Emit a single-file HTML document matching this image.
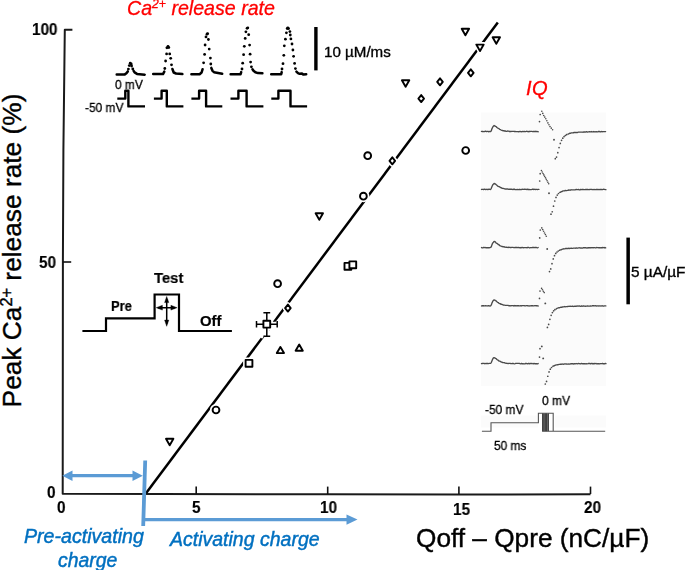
<!DOCTYPE html>
<html><head><meta charset="utf-8">
<style>
html,body{margin:0;padding:0;background:#fff;}
body{width:685px;height:570px;position:relative;overflow:hidden;font-family:"Liberation Sans",sans-serif;}
svg{position:absolute;left:0;top:0;}
.t{position:absolute;white-space:nowrap;line-height:1;will-change:transform;}
sup{font-size:0.62em;vertical-align:0;position:relative;top:-0.55em;}
</style></head><body>
<svg width="685" height="570" viewBox="0 0 685 570">
<rect x="481" y="112.5" width="125" height="273.5" fill="#fbfbfb"/>
<rect x="481" y="415.5" width="57" height="12" fill="#fbfbfb"/>
<rect x="555" y="415.5" width="51" height="12" fill="#fbfbfb"/>
<path d="M72.4 29.7 H64.8 L63.4 150 L62.9 260 L62.7 493.8 L327 494.3 L459 494.6 L590.5 494.3" fill="none" stroke="#1a1a1a" stroke-width="2" stroke-linejoin="round"/>
<path d="M62.9 262 H71.2" fill="none" stroke="#111" stroke-width="1.6"/>
<path d="M196.2 494 V486.6" fill="none" stroke="#111" stroke-width="1.6"/>
<path d="M327.7 494 V486.6" fill="none" stroke="#111" stroke-width="1.6"/>
<path d="M458.9 494 V486.6" fill="none" stroke="#111" stroke-width="1.6"/>
<path d="M590.5 494 V486.6" fill="none" stroke="#111" stroke-width="1.6"/>
<path d="M145.8 493.5 L497.8 22.6" fill="none" stroke="#000" stroke-width="2.5"/>
<path d="M166 438.8 L173.4 438.8 L169.7 445.2 Z" fill="#fff" stroke="#fff" stroke-width="5" stroke-linejoin="round"/>
<path d="M315.6 213.3 L323 213.3 L319.3 219.7 Z" fill="#fff" stroke="#fff" stroke-width="5" stroke-linejoin="round"/>
<path d="M401.9 80.3 L409.3 80.3 L405.6 86.7 Z" fill="#fff" stroke="#fff" stroke-width="5" stroke-linejoin="round"/>
<path d="M461.7 28.8 L469.1 28.8 L465.4 35.2 Z" fill="#fff" stroke="#fff" stroke-width="5" stroke-linejoin="round"/>
<path d="M476.3 44.6 L483.7 44.6 L480 51 Z" fill="#fff" stroke="#fff" stroke-width="5" stroke-linejoin="round"/>
<path d="M492.6 37.3 L500 37.3 L496.3 43.7 Z" fill="#fff" stroke="#fff" stroke-width="5" stroke-linejoin="round"/>
<path d="M276.8 353.1 L284 353.1 L280.4 346.9 Z" fill="#fff" stroke="#fff" stroke-width="5" stroke-linejoin="round"/>
<path d="M295.6 350.7 L302.8 350.7 L299.2 344.5 Z" fill="#fff" stroke="#fff" stroke-width="5" stroke-linejoin="round"/>
<path d="M287.9 304.6 L290.7 308.1 L287.9 311.6 L285.1 308.1 Z" fill="#fff" stroke="#fff" stroke-width="5" stroke-linejoin="round"/>
<path d="M392.3 157.3 L395.1 160.8 L392.3 164.3 L389.5 160.8 Z" fill="#fff" stroke="#fff" stroke-width="5" stroke-linejoin="round"/>
<path d="M421.2 95.1 L424 98.6 L421.2 102.1 L418.4 98.6 Z" fill="#fff" stroke="#fff" stroke-width="5" stroke-linejoin="round"/>
<path d="M440 78.3 L442.8 81.8 L440 85.3 L437.2 81.8 Z" fill="#fff" stroke="#fff" stroke-width="5" stroke-linejoin="round"/>
<path d="M470.8 69.3 L473.6 72.8 L470.8 76.3 L468 72.8 Z" fill="#fff" stroke="#fff" stroke-width="5" stroke-linejoin="round"/>
<path d="M245.6 359.9 H252.4 V366.7 H245.6 Z" fill="#fff" stroke="#fff" stroke-width="5" stroke-linejoin="round"/>
<path d="M263.4 320.8 H270.2 V327.6 H263.4 Z" fill="#fff" stroke="#fff" stroke-width="5" stroke-linejoin="round"/>
<path d="M344.5 262.9 H351.3 V269.7 H344.5 Z" fill="#fff" stroke="#fff" stroke-width="5" stroke-linejoin="round"/>
<path d="M349.4 261.4 H356.2 V268.2 H349.4 Z" fill="#fff" stroke="#fff" stroke-width="5" stroke-linejoin="round"/>
<circle cx="216" cy="410" r="3.6" fill="#fff" stroke="#fff" stroke-width="5"/>
<circle cx="277.6" cy="283.7" r="3.6" fill="#fff" stroke="#fff" stroke-width="5"/>
<circle cx="363.4" cy="196.2" r="3.6" fill="#fff" stroke="#fff" stroke-width="5"/>
<circle cx="367.7" cy="155.7" r="3.6" fill="#fff" stroke="#fff" stroke-width="5"/>
<circle cx="465.7" cy="150.5" r="3.6" fill="#fff" stroke="#fff" stroke-width="5"/>
<path d="M266.8 312.6 V336.4 M256.3 324.2 H277.4" stroke="#fff" stroke-width="5"/>
<path d="M260.6 337.5 L265 331.5" stroke="#fff" stroke-width="4"/>
<path d="M266.8 312.6 V320.6 M266.8 327.8 V336.4 M263.4 312.8 H270.2 M263.4 336.2 H270.2 M256.3 324.2 H263.2 M270.4 324.2 H277.4 M256.5 321 V327.4 M277.2 321 V327.4" fill="none" stroke="#000" stroke-width="1.5"/>
<path d="M166 438.8 L173.4 438.8 L169.7 445.2 Z" fill="#fff" stroke="#000" stroke-width="1.9" stroke-linejoin="round"/>
<path d="M315.6 213.3 L323 213.3 L319.3 219.7 Z" fill="#fff" stroke="#000" stroke-width="1.9" stroke-linejoin="round"/>
<path d="M401.9 80.3 L409.3 80.3 L405.6 86.7 Z" fill="#fff" stroke="#000" stroke-width="1.9" stroke-linejoin="round"/>
<path d="M461.7 28.8 L469.1 28.8 L465.4 35.2 Z" fill="#fff" stroke="#000" stroke-width="1.9" stroke-linejoin="round"/>
<path d="M476.3 44.6 L483.7 44.6 L480 51 Z" fill="#fff" stroke="#000" stroke-width="1.9" stroke-linejoin="round"/>
<path d="M492.6 37.3 L500 37.3 L496.3 43.7 Z" fill="#fff" stroke="#000" stroke-width="1.9" stroke-linejoin="round"/>
<path d="M276.8 353.1 L284 353.1 L280.4 346.9 Z" fill="#fff" stroke="#000" stroke-width="1.9" stroke-linejoin="round"/>
<path d="M295.6 350.7 L302.8 350.7 L299.2 344.5 Z" fill="#fff" stroke="#000" stroke-width="1.9" stroke-linejoin="round"/>
<path d="M287.9 304.6 L290.7 308.1 L287.9 311.6 L285.1 308.1 Z" fill="#fff" stroke="#000" stroke-width="1.9" stroke-linejoin="round"/>
<path d="M392.3 157.3 L395.1 160.8 L392.3 164.3 L389.5 160.8 Z" fill="#fff" stroke="#000" stroke-width="1.9" stroke-linejoin="round"/>
<path d="M421.2 95.1 L424 98.6 L421.2 102.1 L418.4 98.6 Z" fill="#fff" stroke="#000" stroke-width="1.9" stroke-linejoin="round"/>
<path d="M440 78.3 L442.8 81.8 L440 85.3 L437.2 81.8 Z" fill="#fff" stroke="#000" stroke-width="1.9" stroke-linejoin="round"/>
<path d="M470.8 69.3 L473.6 72.8 L470.8 76.3 L468 72.8 Z" fill="#fff" stroke="#000" stroke-width="1.9" stroke-linejoin="round"/>
<path d="M245.6 359.9 H252.4 V366.7 H245.6 Z" fill="#fff" stroke="#000" stroke-width="1.9" stroke-linejoin="round"/>
<path d="M263.4 320.8 H270.2 V327.6 H263.4 Z" fill="#fff" stroke="#000" stroke-width="1.9" stroke-linejoin="round"/>
<path d="M344.5 262.9 H351.3 V269.7 H344.5 Z" fill="#fff" stroke="#000" stroke-width="1.9" stroke-linejoin="round"/>
<path d="M349.4 261.4 H356.2 V268.2 H349.4 Z" fill="#fff" stroke="#000" stroke-width="1.9" stroke-linejoin="round"/>
<circle cx="216" cy="410" r="3.4" fill="#fff" stroke="#000" stroke-width="1.9"/>
<circle cx="277.6" cy="283.7" r="3.4" fill="#fff" stroke="#000" stroke-width="1.9"/>
<circle cx="363.4" cy="196.2" r="3.4" fill="#fff" stroke="#000" stroke-width="1.9"/>
<circle cx="367.7" cy="155.7" r="3.4" fill="#fff" stroke="#000" stroke-width="1.9"/>
<circle cx="465.7" cy="150.5" r="3.4" fill="#fff" stroke="#000" stroke-width="1.9"/>
<path d="M145.2 460.5 L143.2 526" stroke="#5b9bd5" stroke-width="3.8" fill="none"/>
<path d="M144 519.6 H348" stroke="#5b9bd5" stroke-width="3.2" fill="none"/>
<path d="M346.5 514.4 L357.5 519.6 L346.5 524.8 Z" fill="#5b9bd5"/>
<path d="M71 475.7 H134" stroke="#5b9bd5" stroke-width="3.2" fill="none"/>
<path d="M72.5 470.5 L62.3 475.7 L72.5 480.9 Z" fill="#5b9bd5"/>
<path d="M132.5 470.5 L142.8 475.7 L132.5 480.9 Z" fill="#5b9bd5"/>
<polyline points="116.7,74.4 124.8,74.4 126.4,73.3 127.8,71.4" fill="none" stroke="#000" stroke-width="2.5" stroke-linejoin="round" stroke-linecap="round"/>
<polyline points="133.6,70.8 134.6,72.4 137,73.9 144.7,74.7" fill="none" stroke="#000" stroke-width="2.5" stroke-linejoin="round" stroke-linecap="round"/>
<circle cx="128.4" cy="69.1" r="1.4"/>
<circle cx="129.3" cy="65.6" r="1.4"/>
<circle cx="130.2" cy="63.2" r="1.4"/>
<circle cx="131.2" cy="64" r="1.4"/>
<circle cx="131.6" cy="66" r="1.4"/>
<circle cx="132.8" cy="68.9" r="1.4"/>
<polyline points="153.2,74.1 163,74.1 164.3,71.6" fill="none" stroke="#000" stroke-width="2.5" stroke-linejoin="round" stroke-linecap="round"/>
<polyline points="172.4,69 173.7,72.5 176,73.5 182.4,74.1" fill="none" stroke="#000" stroke-width="2.5" stroke-linejoin="round" stroke-linecap="round"/>
<circle cx="164.8" cy="68.5" r="1.4"/>
<circle cx="165.6" cy="61" r="1.4"/>
<circle cx="166.6" cy="53.9" r="1.4"/>
<circle cx="166.9" cy="47.8" r="1.4"/>
<circle cx="168" cy="46.3" r="1.4"/>
<circle cx="168.8" cy="47.6" r="1.4"/>
<circle cx="169.7" cy="53.9" r="1.4"/>
<circle cx="170.7" cy="58.3" r="1.4"/>
<circle cx="171.5" cy="64.8" r="1.4"/>
<polyline points="191.4,74.2 199.6,74.2 201.6,72.5 202.6,69.2" fill="none" stroke="#000" stroke-width="2.5" stroke-linejoin="round" stroke-linecap="round"/>
<polyline points="211.3,67.9 212.5,70.8 214,72.2 222.2,73.7" fill="none" stroke="#000" stroke-width="2.5" stroke-linejoin="round" stroke-linecap="round"/>
<circle cx="203.6" cy="62.8" r="1.4"/>
<circle cx="204.6" cy="54.4" r="1.4"/>
<circle cx="205.1" cy="45" r="1.4"/>
<circle cx="206" cy="36.9" r="1.4"/>
<circle cx="207" cy="34.2" r="1.4"/>
<circle cx="207.6" cy="33.6" r="1.4"/>
<circle cx="208.4" cy="39.5" r="1.4"/>
<circle cx="209.2" cy="49.1" r="1.4"/>
<circle cx="210.4" cy="58.1" r="1.4"/>
<circle cx="210.8" cy="64" r="1.4"/>
<polyline points="230.6,74.2 240.6,74.2 241.2,72.1" fill="none" stroke="#000" stroke-width="2.5" stroke-linejoin="round" stroke-linecap="round"/>
<polyline points="252.5,69.3 253.5,70.8 255.4,72.3 258,73.1 262.4,73.3" fill="none" stroke="#000" stroke-width="2.5" stroke-linejoin="round" stroke-linecap="round"/>
<circle cx="242" cy="69" r="1.4"/>
<circle cx="242.7" cy="63.2" r="1.4"/>
<circle cx="243.6" cy="54.7" r="1.4"/>
<circle cx="244.3" cy="46.3" r="1.4"/>
<circle cx="245.2" cy="38.4" r="1.4"/>
<circle cx="245.9" cy="31.8" r="1.4"/>
<circle cx="247.1" cy="28.3" r="1.4"/>
<circle cx="247.8" cy="27.8" r="1.4"/>
<circle cx="248.7" cy="34.7" r="1.4"/>
<circle cx="249.6" cy="45.1" r="1.4"/>
<circle cx="250.1" cy="54.2" r="1.4"/>
<circle cx="250.6" cy="62.1" r="1.4"/>
<circle cx="251.4" cy="66.8" r="1.4"/>
<polyline points="271.2,74.2 281.2,74.2 281.7,72.1" fill="none" stroke="#000" stroke-width="2.5" stroke-linejoin="round" stroke-linecap="round"/>
<polyline points="296.4,71.6 298,73.2 299.6,73.8 302,73.6 303.5,74.6 306.2,74.2" fill="none" stroke="#000" stroke-width="2.5" stroke-linejoin="round" stroke-linecap="round"/>
<circle cx="282" cy="69" r="1.4"/>
<circle cx="283" cy="63.7" r="1.4"/>
<circle cx="283.8" cy="55.3" r="1.4"/>
<circle cx="284.3" cy="45.8" r="1.4"/>
<circle cx="285.4" cy="39.2" r="1.4"/>
<circle cx="286.4" cy="32.8" r="1.4"/>
<circle cx="287.2" cy="28.6" r="1.4"/>
<circle cx="287.8" cy="27.8" r="1.4"/>
<circle cx="288.6" cy="28.6" r="1.4"/>
<circle cx="289.9" cy="31.6" r="1.4"/>
<circle cx="290.3" cy="35" r="1.4"/>
<circle cx="290.9" cy="38.9" r="1.4"/>
<circle cx="292" cy="44" r="1.4"/>
<circle cx="292.9" cy="50" r="1.4"/>
<circle cx="293.6" cy="56.3" r="1.4"/>
<circle cx="294.6" cy="63.4" r="1.4"/>
<circle cx="295.4" cy="68.6" r="1.4"/>
<path d="M117.3 98.6 H125.3 V90.8 H128.4 V106.4 H145" stroke="#000" stroke-width="2.4" fill="none" stroke-linejoin="round"/>
<path d="M153.9 98.6 H161.6 V90.8 H166.8 V106.4 H183.4" stroke="#000" stroke-width="2.4" fill="none" stroke-linejoin="round"/>
<path d="M191.4 98.6 H199.1 V90.8 H206.1 V106.4 H222.3" stroke="#000" stroke-width="2.4" fill="none" stroke-linejoin="round"/>
<path d="M230.5 98.6 H238.4 V90.8 H246.6 V106.4 H263.4" stroke="#000" stroke-width="2.4" fill="none" stroke-linejoin="round"/>
<path d="M271.3 98.6 H278.4 V90.8 H290.5 V106.4 H307.1" stroke="#000" stroke-width="2.4" fill="none" stroke-linejoin="round"/>
<rect x="314.2" y="27" width="3.4" height="43.4" fill="#000"/>
<rect x="626.4" y="237.6" width="3.5" height="66.7" fill="#000"/>
<path d="M82.4 331 H106 V318.3 H154.6 V294.5 H179 V331 H231.9" stroke="#000" stroke-width="2.2" fill="none"/>
<path d="M158 307.7 H175 M166.7 299 V324" stroke="#000" stroke-width="1.5" fill="none"/>
<path d="M156.2 307.7 L162.4 305.3 L162.4 310.1 Z M177.1 307.7 L170.9 305.3 L170.9 310.1 Z M166.7 296.4 L164.6 302.6 L168.8 302.6 Z M166.7 326.3 L164.6 320.1 L168.8 320.1 Z" fill="#000" stroke="#000" stroke-width="0.4" stroke-linejoin="round"/>
<polyline points="481.5,131.37 482.2,131.52 482.9,131.43 483.6,131.55 484.3,131.56 485,131.28 485.7,131.26 486.4,131.67 487.1,131.38 487.8,131.37 488.5,131.75 489.2,131.49 489.9,131.67 490.6,131.49 491.3,130.72 492,128.58 492.7,127.23 493.4,126.23 494.1,125.54 494.8,125.88 495.5,126.36 496.2,126.61 496.9,127.52 497.6,127.96 498.3,128.3 499,128.61 499.7,129.42 500.4,129.58 501.1,130 501.8,130.35 502.5,130.49 503.2,130.79 503.9,130.68 504.6,131.02 505.3,130.96 506,131.3 506.7,131.35 507.4,131.03 508.1,131.1 508.8,131.18 509.5,131.59 510.2,131.36 510.9,131.47 511.6,131.33 512.3,131.45 513,131.4 513.7,131.39 514.4,131.52 515.1,131.52 515.8,131.69 516.5,131.58 517.2,131.7 517.9,131.67 518.6,131.74 519.3,131.58 520,131.33 520.7,131.68 521.4,131.73 522.1,131.7 522.8,131.53 523.5,131.61 524.2,131.35 524.9,131.67 525.6,131.54 526.3,131.39 527,131.28 527.7,131.68 528.4,131.74 529.1,131.29 529.8,131.65 530.5,131.46 531.2,131.33 531.9,131.4 532.6,131.63 533.3,131.69 534,131.27 534.7,131.56 535.4,131.27 536.1,131.61 536.8,131.42 537.5,131.69 538.2,131.74" fill="none" stroke="#4a4a4a" stroke-width="1.35" stroke-linejoin="round" stroke-linecap="round"/>
<circle cx="539.5" cy="121.6" r="0.85" fill="#4a4a4a"/>
<circle cx="540.2" cy="114.5" r="0.85" fill="#4a4a4a"/>
<circle cx="541.8" cy="111.3" r="0.8" fill="#4a4a4a"/>
<circle cx="542.75" cy="113.4" r="0.8" fill="#4a4a4a"/>
<circle cx="543.7" cy="115.5" r="0.8" fill="#4a4a4a"/>
<circle cx="544.75" cy="117.1" r="0.8" fill="#4a4a4a"/>
<circle cx="545.8" cy="118.7" r="0.8" fill="#4a4a4a"/>
<circle cx="546.85" cy="120.8" r="0.8" fill="#4a4a4a"/>
<circle cx="547.9" cy="122.9" r="0.8" fill="#4a4a4a"/>
<circle cx="548.95" cy="124.75" r="0.8" fill="#4a4a4a"/>
<circle cx="550" cy="126.6" r="0.8" fill="#4a4a4a"/>
<circle cx="551.3" cy="128.15" r="0.8" fill="#4a4a4a"/>
<circle cx="552.6" cy="129.7" r="0.8" fill="#4a4a4a"/>
<circle cx="554" cy="139.7" r="0.95" fill="#4a4a4a"/>
<circle cx="555.3" cy="158.7" r="0.85" fill="#4a4a4a"/>
<circle cx="556.55" cy="157.07" r="0.85" fill="#4a4a4a"/>
<circle cx="557.8" cy="152.65" r="0.85" fill="#4a4a4a"/>
<circle cx="559.05" cy="147.6" r="0.85" fill="#4a4a4a"/>
<circle cx="560.3" cy="143.39" r="0.85" fill="#4a4a4a"/>
<circle cx="561.55" cy="140.3" r="0.85" fill="#4a4a4a"/>
<circle cx="562.8" cy="138.13" r="0.85" fill="#4a4a4a"/>
<circle cx="564.05" cy="136.6" r="0.85" fill="#4a4a4a"/>
<circle cx="565.3" cy="135.5" r="0.85" fill="#4a4a4a"/>
<circle cx="566.55" cy="134.71" r="0.85" fill="#4a4a4a"/>
<polyline points="567.8,134.12 568.5,134.1 569.2,133.52 569.9,133.21 570.6,133.3 571.3,132.86 572,132.81 572.7,132.8 573.4,132.79 574.1,132.47 574.8,132.33 575.5,132.67 576.2,132.32 576.9,132.58 577.6,132.5 578.3,132.19 579,132.18 579.7,132.17 580.4,132.19 581.1,132.14 581.8,132.08 582.5,132.08 583.2,132.22 583.9,131.98 584.6,131.91 585.3,132.04 586,131.77 586.7,131.79 587.4,132.11 588.1,131.86 588.8,131.86 589.5,131.58 590.2,131.77 590.9,131.84 591.6,131.54 592.3,131.83 593,131.83 593.7,131.53 594.4,131.81 595.1,131.72 595.8,131.81 596.5,131.64 597.2,131.81 597.9,131.82 598.6,131.45 599.3,131.47 600,131.77 600.7,131.91 601.4,131.54 602.1,131.64 602.8,131.71 603.5,131.56 604.2,131.58 604.9,131.55 605.6,131.57" fill="none" stroke="#4a4a4a" stroke-width="1.35" stroke-linejoin="round" stroke-linecap="round"/>
<polyline points="481.5,189.45 482.2,189.3 482.9,189.34 483.6,189.54 484.3,189.16 485,189.43 485.7,189.52 486.4,189.31 487.1,189.26 487.8,189.55 488.5,189.27 489.2,189.24 489.9,189.37 490.6,189.5 491.3,188.35 492,186.56 492.7,184.97 493.4,184.11 494.1,183.4 494.8,183.84 495.5,184.01 496.2,184.65 496.9,185.36 497.6,186.01 498.3,186.28 499,186.61 499.7,186.95 500.4,187.5 501.1,187.64 501.8,188.21 502.5,188.45 503.2,188.32 503.9,188.53 504.6,188.93 505.3,188.96 506,189.14 506.7,188.98 507.4,188.94 508.1,189.08 508.8,189.37 509.5,189.14 510.2,189.21 510.9,189.27 511.6,189.29 512.3,189.3 513,189.57 513.7,189.19 514.4,189.12 515.1,189.6 515.8,189.57 516.5,189.63 517.2,189.36 517.9,189.62 518.6,189.61 519.3,189.26 520,189.52 520.7,189.57 521.4,189.48 522.1,189.41 522.8,189.29 523.5,189.32 524.2,189.26 524.9,189.18 525.6,189.44 526.3,189.29 527,189.55 527.7,189.17 528.4,189.6 529.1,189.5 529.8,189.61 530.5,189.6 531.2,189.6 531.9,189.44 532.6,189.16 533.3,189.52 534,189.24 534.7,189.3 535.4,189.48 536.1,189.41 536.8,189.36 537.5,189.62 538.2,189.46 538.9,189.32" fill="none" stroke="#4a4a4a" stroke-width="1.35" stroke-linejoin="round" stroke-linecap="round"/>
<circle cx="539.7" cy="181" r="0.85" fill="#4a4a4a"/>
<circle cx="540.2" cy="173.7" r="0.85" fill="#4a4a4a"/>
<circle cx="541.4" cy="170.5" r="0.8" fill="#4a4a4a"/>
<circle cx="542.21" cy="171.97" r="0.8" fill="#4a4a4a"/>
<circle cx="543.02" cy="173.43" r="0.8" fill="#4a4a4a"/>
<circle cx="543.83" cy="174.9" r="0.8" fill="#4a4a4a"/>
<circle cx="544.64" cy="176.37" r="0.8" fill="#4a4a4a"/>
<circle cx="545.46" cy="177.83" r="0.8" fill="#4a4a4a"/>
<circle cx="546.27" cy="179.3" r="0.8" fill="#4a4a4a"/>
<circle cx="547.08" cy="180.77" r="0.8" fill="#4a4a4a"/>
<circle cx="547.89" cy="182.23" r="0.8" fill="#4a4a4a"/>
<circle cx="548.7" cy="183.7" r="0.8" fill="#4a4a4a"/>
<circle cx="549" cy="193.2" r="0.95" fill="#4a4a4a"/>
<circle cx="551" cy="214.2" r="0.85" fill="#4a4a4a"/>
<circle cx="552.25" cy="211.77" r="0.85" fill="#4a4a4a"/>
<circle cx="553.5" cy="206.18" r="0.85" fill="#4a4a4a"/>
<circle cx="554.75" cy="201" r="0.85" fill="#4a4a4a"/>
<circle cx="556" cy="197.38" r="0.85" fill="#4a4a4a"/>
<circle cx="557.25" cy="195.04" r="0.85" fill="#4a4a4a"/>
<circle cx="558.5" cy="193.52" r="0.85" fill="#4a4a4a"/>
<polyline points="559.75,192.39 560.45,192.27 561.15,191.73 561.85,191.6 562.55,191.14 563.25,190.87 563.95,190.86 564.65,190.86 565.35,190.41 566.05,190.61 566.75,190.58 567.45,190.44 568.15,190.38 568.85,189.9 569.55,190.16 570.25,190.22 570.95,189.77 571.65,189.84 572.35,189.8 573.05,189.9 573.75,189.81 574.45,189.81 575.15,189.94 575.85,189.53 576.55,189.53 577.25,189.55 577.95,189.53 578.65,189.48 579.35,189.92 580.05,189.85 580.75,189.45 581.45,189.65 582.15,189.54 582.85,189.53 583.55,189.54 584.25,189.68 584.95,189.64 585.65,189.52 586.35,189.42 587.05,189.48 587.75,189.38 588.45,189.59 589.15,189.66 589.85,189.49 590.55,189.33 591.25,189.37 591.95,189.47 592.65,189.58 593.35,189.66 594.05,189.46 594.75,189.66 595.45,189.57 596.15,189.47 596.85,189.44 597.55,189.5 598.25,189.6 598.95,189.45 599.65,189.59 600.35,189.47 601.05,189.36 601.75,189.5 602.45,189.58 603.15,189.26 603.85,189.44 604.55,189.44 605.25,189.66 605.95,189.69" fill="none" stroke="#4a4a4a" stroke-width="1.35" stroke-linejoin="round" stroke-linecap="round"/>
<polyline points="481.5,247.54 482.2,247.8 482.9,247.75 483.6,247.48 484.3,247.58 485,247.41 485.7,247.76 486.4,247.68 487.1,247.79 487.8,247.75 488.5,247.68 489.2,247.72 489.9,247.63 490.6,247.4 491.3,246.79 492,244.6 492.7,243.08 493.4,242.28 494.1,241.4 494.8,241.66 495.5,242.17 496.2,243.12 496.9,243.33 497.6,243.78 498.3,244.67 499,244.76 499.7,245.51 500.4,245.78 501.1,246.16 501.8,246.48 502.5,246.52 503.2,246.82 503.9,246.61 504.6,247.11 505.3,247.09 506,247.29 506.7,247.07 507.4,247.45 508.1,247.6 508.8,247.2 509.5,247.37 510.2,247.52 510.9,247.67 511.6,247.4 512.3,247.38 513,247.43 513.7,247.62 514.4,247.7 515.1,247.53 515.8,247.52 516.5,247.54 517.2,247.52 517.9,247.55 518.6,247.39 519.3,247.6 520,247.83 520.7,247.55 521.4,247.72 522.1,247.43 522.8,247.69 523.5,247.73 524.2,247.69 524.9,247.61 525.6,247.59 526.3,247.67 527,247.8 527.7,247.42 528.4,247.4 529.1,247.72 529.8,247.81 530.5,247.61 531.2,247.57 531.9,247.71 532.6,247.44 533.3,247.48 534,247.45 534.7,247.64 535.4,247.51 536.1,247.47 536.8,247.7 537.5,247.83 538.2,247.5" fill="none" stroke="#4a4a4a" stroke-width="1.35" stroke-linejoin="round" stroke-linecap="round"/>
<circle cx="539.7" cy="237.9" r="0.85" fill="#4a4a4a"/>
<circle cx="540.3" cy="230" r="0.85" fill="#4a4a4a"/>
<circle cx="541.8" cy="227.9" r="0.8" fill="#4a4a4a"/>
<circle cx="542.7" cy="229.58" r="0.8" fill="#4a4a4a"/>
<circle cx="543.6" cy="231.26" r="0.8" fill="#4a4a4a"/>
<circle cx="544.5" cy="232.94" r="0.8" fill="#4a4a4a"/>
<circle cx="545.4" cy="234.62" r="0.8" fill="#4a4a4a"/>
<circle cx="546.3" cy="236.3" r="0.8" fill="#4a4a4a"/>
<circle cx="547.2" cy="249" r="0.95" fill="#4a4a4a"/>
<circle cx="549.5" cy="271.6" r="0.85" fill="#4a4a4a"/>
<circle cx="550.75" cy="268.95" r="0.85" fill="#4a4a4a"/>
<circle cx="552" cy="263.64" r="0.85" fill="#4a4a4a"/>
<circle cx="553.25" cy="258.94" r="0.85" fill="#4a4a4a"/>
<circle cx="554.5" cy="255.64" r="0.85" fill="#4a4a4a"/>
<circle cx="555.75" cy="253.45" r="0.85" fill="#4a4a4a"/>
<circle cx="557" cy="251.99" r="0.85" fill="#4a4a4a"/>
<circle cx="558.25" cy="250.99" r="0.85" fill="#4a4a4a"/>
<polyline points="559.5,250.39 560.2,249.94 560.9,249.9 561.6,249.54 562.3,249.2 563,249.01 563.7,248.77 564.4,248.88 565.1,248.72 565.8,248.52 566.5,248.53 567.2,248.44 567.9,248.6 568.6,248.22 569.3,248.59 570,248.29 570.7,248.3 571.4,248.2 572.1,248.35 572.8,248.31 573.5,248.14 574.2,248.08 574.9,248.17 575.6,248.21 576.3,247.96 577,248.11 577.7,248.2 578.4,247.94 579.1,247.81 579.8,247.79 580.5,248.02 581.2,247.98 581.9,248.11 582.6,248.05 583.3,247.73 584,247.7 584.7,247.72 585.4,247.68 586.1,247.93 586.8,247.99 587.5,248.01 588.2,247.68 588.9,247.98 589.6,247.69 590.3,247.74 591,247.89 591.7,247.56 592.4,247.56 593.1,247.93 593.8,247.65 594.5,247.68 595.2,247.78 595.9,247.83 596.6,247.49 597.3,247.65 598,247.7 598.7,247.72 599.4,247.58 600.1,247.76 600.8,247.94 601.5,247.66 602.2,247.73 602.9,247.52 603.6,247.59 604.3,247.78 605,247.5 605.7,247.89" fill="none" stroke="#4a4a4a" stroke-width="1.35" stroke-linejoin="round" stroke-linecap="round"/>
<polyline points="481.5,306 482.2,305.6 482.9,306.02 483.6,305.74 484.3,305.94 485,305.93 485.7,305.7 486.4,305.89 487.1,305.88 487.8,305.95 488.5,305.68 489.2,305.93 489.9,306.03 490.6,305.89 491.3,304.96 492,302.86 492.7,301.45 493.4,300.27 494.1,299.94 494.8,300.15 495.5,300.61 496.2,300.97 496.9,301.76 497.6,302.28 498.3,302.54 499,303.34 499.7,303.62 500.4,303.7 501.1,304.41 501.8,304.28 502.5,304.6 503.2,304.99 503.9,305.09 504.6,305.2 505.3,305.36 506,305.36 506.7,305.37 507.4,305.37 508.1,305.36 508.8,305.73 509.5,305.79 510.2,305.71 510.9,305.83 511.6,305.66 512.3,305.63 513,305.7 513.7,305.95 514.4,305.54 515.1,305.78 515.8,305.66 516.5,305.92 517.2,305.72 517.9,305.71 518.6,305.75 519.3,305.82 520,305.93 520.7,305.72 521.4,305.97 522.1,305.6 522.8,305.68 523.5,305.6 524.2,305.61 524.9,305.94 525.6,305.91 526.3,305.64 527,305.64 527.7,305.76 528.4,305.92 529.1,305.96 529.8,305.92 530.5,305.85 531.2,305.62 531.9,305.75 532.6,305.65 533.3,305.81 534,305.83 534.7,305.65 535.4,305.68 536.1,305.94 536.8,305.57 537.5,305.95 538.2,306" fill="none" stroke="#4a4a4a" stroke-width="1.35" stroke-linejoin="round" stroke-linecap="round"/>
<circle cx="539.5" cy="298.4" r="0.85" fill="#4a4a4a"/>
<circle cx="540" cy="291" r="0.85" fill="#4a4a4a"/>
<circle cx="541.6" cy="288.4" r="0.8" fill="#4a4a4a"/>
<circle cx="542.47" cy="289.8" r="0.8" fill="#4a4a4a"/>
<circle cx="543.33" cy="291.2" r="0.8" fill="#4a4a4a"/>
<circle cx="544.2" cy="292.6" r="0.8" fill="#4a4a4a"/>
<circle cx="545.3" cy="303.4" r="0.95" fill="#4a4a4a"/>
<circle cx="547.4" cy="327.4" r="0.85" fill="#4a4a4a"/>
<circle cx="548.65" cy="324.38" r="0.85" fill="#4a4a4a"/>
<circle cx="549.9" cy="319.34" r="0.85" fill="#4a4a4a"/>
<circle cx="551.15" cy="315.32" r="0.85" fill="#4a4a4a"/>
<circle cx="552.4" cy="312.6" r="0.85" fill="#4a4a4a"/>
<circle cx="553.65" cy="310.82" r="0.85" fill="#4a4a4a"/>
<circle cx="554.9" cy="309.63" r="0.85" fill="#4a4a4a"/>
<polyline points="556.15,309.03 556.85,308.39 557.55,308.18 558.25,307.95 558.95,307.76 559.65,307.75 560.35,307.45 561.05,307.12 561.75,307.28 562.45,306.99 563.15,306.95 563.85,306.93 564.55,306.5 565.25,306.82 565.95,306.7 566.65,306.57 567.35,306.53 568.05,306.46 568.75,306.29 569.45,306.42 570.15,306.14 570.85,306.34 571.55,306.38 572.25,306.26 572.95,306.29 573.65,306.47 574.35,306.41 575.05,306.02 575.75,306.33 576.45,306.23 577.15,305.92 577.85,306.06 578.55,305.99 579.25,305.9 579.95,306.11 580.65,306.3 581.35,305.98 582.05,306.25 582.75,306.15 583.45,305.86 584.15,306.21 584.85,306.08 585.55,306.23 586.25,306.12 586.95,306.13 587.65,305.92 588.35,306.15 589.05,306.2 589.75,306.16 590.45,305.94 591.15,306.1 591.85,305.96 592.55,305.77 593.25,305.73 593.95,305.74 594.65,305.8 595.35,305.77 596.05,305.94 596.75,306.04 597.45,305.95 598.15,305.89 598.85,306 599.55,305.83 600.25,305.9 600.95,306.05 601.65,305.87 602.35,305.75 603.05,306.11 603.75,306.02 604.45,305.84 605.15,305.84 605.85,305.91" fill="none" stroke="#4a4a4a" stroke-width="1.35" stroke-linejoin="round" stroke-linecap="round"/>
<polyline points="481.5,363.65 482.2,363.46 482.9,363.35 483.6,363.45 484.3,363.74 485,363.42 485.7,363.58 486.4,363.45 487.1,363.45 487.8,363.44 488.5,363.55 489.2,363.43 489.9,363.36 490.6,363.41 491.3,362.58 492,360.85 492.7,359.04 493.4,357.9 494.1,357.6 494.8,357.81 495.5,358.48 496.2,358.71 496.9,359.44 497.6,359.96 498.3,360.27 499,361.18 499.7,361.2 500.4,361.49 501.1,361.98 501.8,362.09 502.5,362.54 503.2,362.6 503.9,362.65 504.6,362.75 505.3,363.2 506,363.07 506.7,363.41 507.4,363.31 508.1,363.6 508.8,363.32 509.5,363.33 510.2,363.37 510.9,363.67 511.6,363.59 512.3,363.47 513,363.35 513.7,363.66 514.4,363.81 515.1,363.62 515.8,363.34 516.5,363.35 517.2,363.39 517.9,363.43 518.6,363.36 519.3,363.37 520,363.67 520.7,363.8 521.4,363.45 522.1,363.84 522.8,363.59 523.5,363.75 524.2,363.81 524.9,363.82 525.6,363.37 526.3,363.5 527,363.65 527.7,363.82 528.4,363.39 529.1,363.5 529.8,363.77 530.5,363.41 531.2,363.54 531.9,363.52 532.6,363.69 533.3,363.81 534,363.44 534.7,363.72 535.4,363.72 536.1,363.77 536.8,363.63 537.5,363.81 538.2,363.53" fill="none" stroke="#4a4a4a" stroke-width="1.35" stroke-linejoin="round" stroke-linecap="round"/>
<circle cx="539.5" cy="357.1" r="0.85" fill="#4a4a4a"/>
<circle cx="540" cy="348.7" r="0.85" fill="#4a4a4a"/>
<circle cx="541.8" cy="346.4" r="0.95" fill="#4a4a4a"/>
<circle cx="543.2" cy="358.4" r="0.95" fill="#4a4a4a"/>
<circle cx="545.3" cy="384" r="0.85" fill="#4a4a4a"/>
<circle cx="546.55" cy="381.44" r="0.85" fill="#4a4a4a"/>
<circle cx="547.8" cy="376.23" r="0.85" fill="#4a4a4a"/>
<circle cx="549.05" cy="371.95" r="0.85" fill="#4a4a4a"/>
<circle cx="550.3" cy="369.21" r="0.85" fill="#4a4a4a"/>
<circle cx="551.55" cy="367.51" r="0.85" fill="#4a4a4a"/>
<polyline points="552.8,366.4 553.5,365.88 554.2,365.81 554.9,365.38 555.6,365.05 556.3,364.81 557,364.93 557.7,364.74 558.4,364.68 559.1,364.42 559.8,364.39 560.5,364.15 561.2,364.36 561.9,363.97 562.6,364.14 563.3,364.24 564,364.16 564.7,363.84 565.4,363.88 566.1,364.15 566.8,364.03 567.5,364.12 568.2,364.1 568.9,363.87 569.6,364.07 570.3,363.98 571,363.76 571.7,363.77 572.4,363.61 573.1,363.76 573.8,364.03 574.5,363.59 575.2,363.81 575.9,363.58 576.6,363.55 577.3,363.83 578,363.62 578.7,363.52 579.4,363.56 580.1,363.8 580.8,363.77 581.5,363.48 582.2,363.58 582.9,363.94 583.6,363.57 584.3,363.73 585,363.66 585.7,363.84 586.4,363.74 587.1,363.83 587.8,363.7 588.5,363.53 589.2,363.52 589.9,363.47 590.6,363.84 591.3,363.48 592,363.43 592.7,363.9 593.4,363.52 594.1,363.86 594.8,363.46 595.5,363.64 596.2,363.52 596.9,363.82 597.6,363.71 598.3,363.73 599,363.78 599.7,363.84 600.4,363.57 601.1,363.7 601.8,363.62 602.5,363.45 603.2,363.81 603.9,363.69 604.6,363.8 605.3,363.49 606,363.66" fill="none" stroke="#4a4a4a" stroke-width="1.35" stroke-linejoin="round" stroke-linecap="round"/>
<path d="M481.9 431.2 H491 V422.7 H538.4 V413.3 H553.2 V431.2 H605.2 M542.1 431.2 H553.2" stroke="#555" stroke-width="1.1" fill="none"/>
<rect x="542.1" y="413.3" width="6.9" height="17.9" fill="#777"/>
<path d="M542.6 413.3 V431.2 M543.9 413.3 V431.2 M545.3 413.3 V431.2 M546.6 413.3 V431.2 M548.3 413.3 V431.2" stroke="#333" stroke-width="0.9" fill="none"/>
<text id="ylab" transform="translate(21,407.4) rotate(-90) scale(1,1)" font-family="Liberation Sans" font-size="26.3" fill="#000" stroke="#000" stroke-width="0.4">Peak Ca<tspan font-size="0.62em" dy="-0.55em">2+</tspan><tspan dy="0.341em"> release rate (%)</tspan></text>
</svg>
<div class="t" id="t100" style="left:32.05px;top:22.41px;font-size:15.6px;font-weight:bold;font-style:normal;color:#000;transform:scaleX(0.98);transform-origin:0 0;-webkit-text-stroke:0.15px #000;">100</div>
<div class="t" id="t50" style="left:39.23px;top:254.69px;font-size:15.6px;font-weight:bold;font-style:normal;color:#000;transform:scaleX(0.98);transform-origin:0 0;-webkit-text-stroke:0.15px #000;">50</div>
<div class="t" id="ty0" style="left:46.86px;top:485.03px;font-size:15.6px;font-weight:bold;font-style:normal;color:#000;transform:scaleX(0.98);transform-origin:0 0;-webkit-text-stroke:0.15px #000;">0</div>
<div class="t" id="tx0" style="left:56.7px;top:499.72px;font-size:15.6px;font-weight:bold;font-style:normal;color:#000;transform:scaleX(0.98);transform-origin:0 0;-webkit-text-stroke:0.15px #000;">0</div>
<div class="t" id="tx5" style="left:191.96px;top:500.09px;font-size:15.6px;font-weight:bold;font-style:normal;color:#000;transform:scaleX(0.98);transform-origin:0 0;-webkit-text-stroke:0.15px #000;">5</div>
<div class="t" id="tx10" style="left:319.7px;top:500.11px;font-size:15.6px;font-weight:bold;font-style:normal;color:#000;transform:scaleX(0.98);transform-origin:0 0;-webkit-text-stroke:0.15px #000;">10</div>
<div class="t" id="tx15" style="left:452.6px;top:501.9px;font-size:15.6px;font-weight:bold;font-style:normal;color:#000;transform:scaleX(0.98);transform-origin:0 0;-webkit-text-stroke:0.15px #000;">15</div>
<div class="t" id="tx20" style="left:584.17px;top:500.31px;font-size:15.6px;font-weight:bold;font-style:normal;color:#000;transform:scaleX(0.98);transform-origin:0 0;-webkit-text-stroke:0.15px #000;">20</div>
<div class="t" id="xl" style="left:415.8px;top:524.7px;font-size:26.22px;font-weight:normal;font-style:normal;color:#000;-webkit-text-stroke:0.4px #000;">Qoff &ndash; Qpre (nC/&micro;F)</div>
<div class="t" id="cat" style="left:126.91px;top:-0.55px;font-size:19.63px;font-weight:normal;font-style:italic;color:#f00;-webkit-text-stroke:0.3px #f00;">Ca<sup>2+</sup> release rate</div>
<div class="t" id="iq" style="left:526.43px;top:78.2px;font-size:20.14px;font-weight:normal;font-style:italic;color:#f00;-webkit-text-stroke:0.3px #f00;">I<span style="margin-left:0.4px">Q</span></div>
<div class="t" id="sb1" style="left:323.58px;top:43.55px;font-size:15.15px;font-weight:normal;font-style:normal;color:#000;-webkit-text-stroke:0.35px #000;">10 &micro;M/ms</div>
<div class="t" id="sb2" style="left:631.11px;top:263.67px;font-size:15.4px;font-weight:normal;font-style:normal;color:#000;-webkit-text-stroke:0.35px #000;">5 &micro;A/&micro;F</div>
<div class="t" id="mv0a" style="left:115.06px;top:78.76px;font-size:12.42px;font-weight:normal;font-style:normal;color:#000;transform:scaleX(0.96);transform-origin:0 0;-webkit-text-stroke:0.3px #000;">0 mV</div>
<div class="t" id="mv50a" style="left:85.25px;top:102.24px;font-size:12.7px;font-weight:normal;font-style:normal;color:#000;transform:scaleX(0.94);transform-origin:0 0;-webkit-text-stroke:0.3px #000;">-50 mV</div>
<div class="t" id="mv50b" style="left:485.46px;top:403.85px;font-size:12.7px;font-weight:normal;font-style:normal;color:#000;transform:scaleX(0.94);transform-origin:0 0;-webkit-text-stroke:0.3px #000;">-50 mV</div>
<div class="t" id="mv0b" style="left:541.71px;top:395.49px;font-size:12.42px;font-weight:normal;font-style:normal;color:#000;transform:scaleX(0.97);transform-origin:0 0;-webkit-text-stroke:0.3px #000;">0 mV</div>
<div class="t" id="ms50" style="left:494.13px;top:440.31px;font-size:12.3px;font-weight:normal;font-style:normal;color:#000;transform:scaleX(0.97);transform-origin:0 0;-webkit-text-stroke:0.3px #000;">50 ms</div>
<div class="t" id="test" style="left:154.3px;top:270.4px;font-size:15.43px;font-weight:bold;font-style:normal;color:#000;transform:scaleX(0.96);transform-origin:0 0;-webkit-text-stroke:0.2px #000;">Test</div>
<div class="t" id="pre" style="left:110.7px;top:299.3px;font-size:14.29px;font-weight:bold;font-style:normal;color:#000;transform:scaleX(0.91);transform-origin:0 0;-webkit-text-stroke:0.2px #000;">Pre</div>
<div class="t" id="off" style="left:199.69px;top:313.7px;font-size:14.02px;font-weight:bold;font-style:normal;color:#000;transform:scaleX(1.06);transform-origin:0 0;-webkit-text-stroke:0.2px #000;">Off</div>
<div class="t" id="preact" style="left:23.77px;top:527px;font-size:19.63px;font-weight:normal;font-style:italic;color:#0070c0;-webkit-text-stroke:0.45px #0070c0;">Pre-activating</div>
<div class="t" id="charge" style="left:57.64px;top:550.65px;font-size:19.43px;font-weight:normal;font-style:italic;color:#0070c0;-webkit-text-stroke:0.45px #0070c0;">charge</div>
<div class="t" id="act" style="left:169.9px;top:530.05px;font-size:19.51px;font-weight:normal;font-style:italic;color:#0070c0;-webkit-text-stroke:0.45px #0070c0;">Activating charge</div>
</body></html>
